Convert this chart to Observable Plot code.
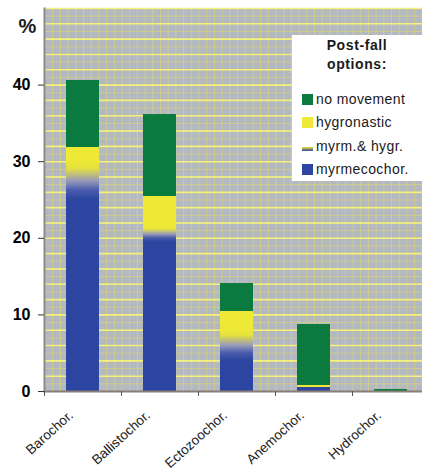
<!DOCTYPE html>
<html><head><meta charset="utf-8">
<script src="https://cdn.jsdelivr.net/npm/d3@7"></script>
<script src="https://cdn.jsdelivr.net/npm/@observablehq/plot@0.6"></script>
<style>
body{margin:0;background:#fff;font-family:Arial,"Liberation Sans",sans-serif;}
#wrap{position:relative;width:422px;height:474px;overflow:hidden;}
#legend{position:absolute;left:292px;top:35px;width:140px;height:146px;background:#fff;color:#1a1a1a;}
#legend .title{position:absolute;left:0;width:130px;text-align:center;font-weight:bold;font-size:14px;letter-spacing:0.6px;}
#legend .item{position:absolute;left:24px;font-size:14px;letter-spacing:0.4px;white-space:nowrap;line-height:16px;}
#legend .sw{position:absolute;left:10px;width:11px;height:11px;}
</style></head>
<body><div id="wrap"></div>
<script>
const categories = ["Barochor.", "Ballistochor.", "Ectozoochor.", "Anemochor.", "Hydrochor."];
const series = ["myrmecochor.", "myrm.& hygr.", "hygronastic", "no movement"];
const myrmecochor = [25, 19.5, 4, 0.45, 0];
const myrmHygr = [5, 2, 4, 0.15, 0];
const hygronastic = [1.8, 4, 2.4, 0.2, 0];
const noMovement = [8.8, 10.7, 3.7, 7.9, 0.3];
const yTicks = [0, 10, 20, 30, 40];
const colors = ["#2c45a0", "url(#mhgrad)", "#eee836", "#0b7a3e"];

const values = [myrmecochor, myrmHygr, hygronastic, noMovement];
const rows = [];
series.forEach((s, si) => categories.forEach((c, i) => rows.push({category: c, series: s, value: values[si][i]})));
const fillOf = Object.fromEntries(series.map((s, i) => [s, colors[i]]));

const chart = Plot.plot({
  width: 422, height: 474,
  marginTop: 8, marginLeft: 44, marginRight: 0, marginBottom: 83,
  x: {domain: categories, range: [44, 429], paddingInner: 0.57, paddingOuter: 0.285, axis: null},
  y: {domain: [0, 50], range: [391, 8], axis: null},
  style: {fontFamily: "Arial, 'Liberation Sans', sans-serif", background: "transparent", overflow: "hidden"},
  marks: [
    Plot.frame({fill: "url(#vgrid)", stroke: null}),
    Plot.ruleY(d3.range(1, 50, 1), {stroke: "#cfcb8e", strokeWidth: 1}),
    Plot.ruleY(d3.range(2, 51, 2), {stroke: "#f4f07a", strokeWidth: 1.6}),
    Plot.barY(rows, {x: "category", y: "value", order: series, fill: d => fillOf[d.series], shapeRendering: "crispEdges"}),
    Plot.ruleY([0], {stroke: "#8b7f76", strokeWidth: 2}),
    Plot.frame({anchor: "left", stroke: "#8a8a8a", strokeWidth: 2}),
    Plot.axisY({ticks: yTicks, label: null, tickSize: 6, tickPadding: 8, fontSize: 16, fontWeight: "bold", tickFormat: d => String(d), stroke: "#333"}),
    Plot.axisX({label: null, tickSize: 5, tickFormat: () => "", dx: -38.5, stroke: "#555"}),
    Plot.text(categories, {x: d => d, frameAnchor: "bottom", dx: -9, dy: 25, rotate: -42, textAnchor: "end", fontSize: 13.5, fill: "#1a1a1a"}),
    Plot.text(["%"], {frameAnchor: "top-left", dx: -26, dy: 10, fontSize: 20, fontWeight: "bold", fill: "#1a1a1a"})
  ]
});

const defs = d3.select(chart).insert("defs", ":first-child");
const pat = defs.append("pattern").attr("id", "vgrid").attr("patternUnits", "userSpaceOnUse")
  .attr("x", 44).attr("y", 0).attr("width", 7.7).attr("height", 10);
pat.append("rect").attr("width", 7.7).attr("height", 10).attr("fill", "#b3b9c3");
pat.append("rect").attr("x", 0).attr("width", 1).attr("height", 10).attr("fill", "#cfcb8e");
const g = defs.append("linearGradient").attr("id", "mhgrad").attr("x1", 0).attr("y1", 0).attr("x2", 0).attr("y2", 1);
[["0%", "#eee836"], ["18%", "#e6e23e"], ["50%", "#9a9cb8"], ["75%", "#4a5cae"], ["100%", "#2c45a0"]]
  .forEach(([o, c]) => g.append("stop").attr("offset", o).attr("stop-color", c));

const wrap = document.getElementById("wrap");
wrap.appendChild(chart);

const legend = document.createElement("div");
legend.id = "legend";
let html = `<div class="title" style="top:2px">Post-fall</div><div class="title" style="top:21px">options:</div>`;
const legendOrder = ["no movement", "hygronastic", "myrm.& hygr.", "myrmecochor."];
legendOrder.forEach((s, i) => {
  const cy = 64 + i * 23.3;
  const sw = s === "myrm.& hygr."
    ? `<div class="sw" style="top:${cy + 1}px;height:4px;background:linear-gradient(#eee836,#2c45a0)"></div>`
    : `<div class="sw" style="top:${cy - 5}px;background:${fillOf[s]}"></div>`;
  html += sw + `<div class="item" style="top:${cy - 8}px">${s}</div>`;
});
legend.innerHTML = html;
wrap.appendChild(legend);
</script></body></html>
